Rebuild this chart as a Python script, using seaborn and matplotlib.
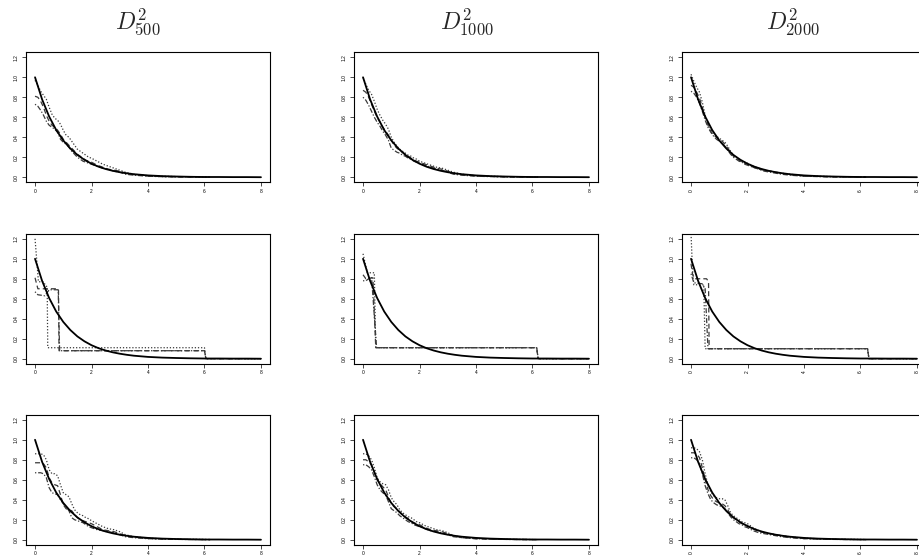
import matplotlib
matplotlib.use("Agg")
import matplotlib.pyplot as plt
import seaborn as sns

# true density curve
true_x = [0, 0.25, 0.5, 0.75, 1, 1.25, 1.5, 1.75, 2, 2.25, 2.5, 2.75, 3, 3.25, 3.5, 3.75, 4,
          4.5, 5, 5.5, 6, 6.5, 7, 7.5, 8]
true_y = [1.0, 0.779, 0.607, 0.472, 0.368, 0.287, 0.223, 0.174, 0.135, 0.105, 0.082, 0.064, 0.050,
          0.039, 0.030, 0.024, 0.018, 0.011, 0.007, 0.004, 0.002, 0.002, 0.001, 0.001, 0.0]

# grid of the smooth estimates (rows 1 and 3)
est_x = [0, 0.1, 0.2, 0.3, 0.4, 0.5, 0.6, 0.7, 0.8, 0.9, 1.0, 1.1, 1.2, 1.3, 1.4, 1.5, 1.6, 1.7,
         1.8, 1.9, 2.0, 2.2, 2.4, 2.6, 2.8, 3.0, 3.2, 3.5, 4.0, 4.5, 5.0, 6.2]

# row 1: D500, D1000, D2000
r1c1_a = [.97, .92, .86, .82, .78, .70, .63, .59, .57, .53, .47, .42, .40, .36, .32, .28, .26, .24, .22, .20, .19,
          .16, .13, .11, .09, .07, .05, .03, .015, .01, .006, .002]
r1c1_b = [.81, .80, .76, .70, .62, .56, .52, .50, .47, .43, .38, .35, .32, .29, .26, .23, .21, .19, .17, .16, .15,
          .12, .10, .08, .07, .06, .04, .025, .012, .006, .004, .001]
r1c1_c = [.73, .71, .67, .62, .56, .52, .50, .48, .45, .38, .35, .33, .30, .26, .23, .20, .18, .16, .15, .14, .13,
          .11, .09, .08, .06, .05, .03, .02, .01, .005, .003, .001]

r1c2_a = [1.0, .93, .87, .83, .76, .68, .62, .57, .53, .48, .40, .35, .31, .28, .26, .24, .22, .21, .19, .18, .16,
          .14, .12, .10, .09, .07, .05, .03, .015, .01, .006, .002]
r1c2_b = [.87, .85, .80, .73, .66, .60, .55, .50, .46, .42, .37, .32, .29, .27, .25, .23, .21, .19, .17, .16, .15,
          .13, .11, .09, .08, .06, .04, .025, .012, .008, .004, .001]
r1c2_c = [.80, .77, .72, .66, .60, .55, .51, .46, .42, .37, .29, .27, .25, .24, .22, .21, .19, .18, .16, .15, .14,
          .12, .10, .08, .07, .05, .03, .02, .01, .006, .003, .001]

r1c3_a = [1.03, .96, .90, .85, .75, .62, .54, .48, .44, .41, .39, .37, .35, .31, .26, .22, .20, .18, .16, .15, .14,
          .11, .09, .07, .06, .05, .04, .03, .015, .01, .006, .002]
r1c3_b = [.92, .90, .85, .79, .70, .60, .52, .46, .42, .40, .38, .36, .33, .29, .25, .21, .19, .17, .15, .14, .13,
          .10, .08, .07, .06, .05, .04, .025, .012, .008, .004, .001]
r1c3_c = [.86, .84, .80, .74, .66, .57, .50, .45, .41, .38, .36, .34, .31, .27, .23, .20, .18, .16, .15, .13, .12,
          .10, .08, .06, .05, .04, .03, .02, .01, .006, .003, .001]

# row 2: step estimates (x, y pairs)
r2c1_a_x = [0, 0.12, 0.3, 0.38, 0.43, 0.45, 6.0, 6.05, 8]
r2c1_a_y = [1.2, 0.77, 0.77, 0.73, 0.72, 0.11, 0.11, 0.0, 0.0]
r2c1_b_x = [0, 0.1, 0.78, 0.83, 0.85, 6.0, 6.05, 8]
r2c1_b_y = [0.81, 0.70, 0.70, 0.69, 0.08, 0.08, 0.0, 0.0]
r2c1_c_x = [0, 0.1, 0.35, 0.5, 0.82, 0.87, 6.0, 6.05, 8]
r2c1_c_y = [0.67, 0.64, 0.63, 0.69, 0.69, 0.08, 0.08, 0.0, 0.0]

r2c2_a_x = [0, 0.15, 0.4, 0.45, 6.15, 6.2, 8]
r2c2_a_y = [1.05, 0.86, 0.86, 0.11, 0.11, 0.0, 0.0]
r2c2_b_x = [0, 0.1, 0.35, 0.45, 6.15, 6.2, 8]
r2c2_b_y = [0.84, 0.80, 0.81, 0.11, 0.11, 0.0, 0.0]
r2c2_c_x = [0, 0.1, 0.3, 0.48, 6.15, 6.2, 8]
r2c2_c_y = [0.78, 0.78, 0.82, 0.11, 0.11, 0.0, 0.0]

r2c3_a_x = [0, 0.05, 0.1, 0.45, 0.5, 6.25, 6.3, 8]
r2c3_a_y = [1.25, 0.90, 0.74, 0.74, 0.10, 0.10, 0.0, 0.0]
r2c3_b_x = [0, 0.05, 0.12, 0.55, 0.62, 0.64, 6.25, 6.3, 8]
r2c3_b_y = [0.95, 0.85, 0.80, 0.80, 0.77, 0.10, 0.10, 0.0, 0.0]
r2c3_c_x = [0, 0.1, 0.4, 0.5, 0.6, 6.25, 6.3, 8]
r2c3_c_y = [0.85, 0.76, 0.75, 0.70, 0.10, 0.10, 0.0, 0.0]

# row 3
r3c1_a = [.86, .86, .86, .85, .80, .70, .66, .66, .64, .55, .47, .45, .43, .36, .30, .27, .25, .24, .22, .21, .19,
          .16, .13, .11, .10, .08, .05, .03, .015, .01, .006, .002]
r3c1_b = [.77, .77, .77, .76, .72, .62, .57, .55, .54, .45, .35, .31, .30, .29, .25, .22, .20, .19, .18, .17, .16,
          .13, .10, .09, .08, .06, .04, .025, .012, .008, .004, .001]
r3c1_c = [.67, .67, .67, .66, .62, .52, .47, .46, .45, .40, .36, .33, .29, .22, .20, .19, .18, .17, .15, .13, .12,
          .10, .09, .08, .07, .05, .03, .02, .01, .006, .003, .001]

r3c2_a = [.86, .86, .84, .80, .72, .62, .58, .56, .55, .50, .42, .38, .35, .30, .27, .25, .23, .22, .20, .18, .17,
          .14, .12, .10, .09, .07, .04, .025, .012, .008, .004, .001]
r3c2_b = [.80, .80, .78, .75, .68, .60, .56, .53, .50, .43, .36, .33, .31, .28, .25, .23, .21, .19, .17, .16, .15,
          .12, .10, .09, .08, .06, .04, .02, .01, .006, .003, .001]
r3c2_c = [.75, .75, .73, .70, .63, .55, .50, .47, .45, .38, .31, .29, .27, .24, .22, .20, .18, .17, .15, .14, .13,
          .11, .09, .08, .07, .05, .03, .02, .01, .006, .003, .001]

r3c3_a = [.92, .92, .91, .88, .80, .66, .55, .48, .44, .42, .41, .41, .40, .34, .27, .24, .22, .20, .18, .17, .16,
          .12, .09, .07, .06, .05, .04, .03, .015, .01, .006, .002]
r3c3_b = [.87, .87, .86, .82, .72, .60, .50, .44, .40, .38, .37, .36, .34, .30, .25, .22, .20, .18, .16, .15, .14,
          .11, .08, .07, .06, .05, .04, .025, .012, .008, .004, .001]
r3c3_c = [.82, .82, .80, .76, .66, .54, .46, .40, .37, .35, .34, .33, .31, .27, .23, .20, .18, .16, .15, .13, .12,
          .09, .07, .06, .05, .04, .03, .02, .01, .006, .003, .001]

titles = [r"$D^2_{500}$", r"$D^2_{1000}$", r"$D^2_{2000}$"]
x_ticks = [0, 2, 4, 6, 8]
y_ticks = [0.0, 0.2, 0.4, 0.6, 0.8, 1.0, 1.2]

sns.set_theme(style="ticks")
plt.rcParams["font.family"] = ["Liberation Sans", "DejaVu Sans"]
plt.rcParams["mathtext.fontset"] = "cm"

fig = plt.figure(figsize=(9.19, 5.55), dpi=100)
W, H = 919, 555

col_left = [26, 354, 682]
row_top = [52.5, 234, 415]
ax_w, ax_h = 244, 129.5

styles = [(0, (1, 1.5)), (0, (4, 2.5)), (0, (1, 1.5, 4, 1.5))]
est_color = "#3a3a3a"

rows = [
    [[(est_x, r1c1_a), (est_x, r1c1_b), (est_x, r1c1_c)],
     [(est_x, r1c2_a), (est_x, r1c2_b), (est_x, r1c2_c)],
     [(est_x, r1c3_a), (est_x, r1c3_b), (est_x, r1c3_c)]],
    [[(r2c1_a_x, r2c1_a_y), (r2c1_b_x, r2c1_b_y), (r2c1_c_x, r2c1_c_y)],
     [(r2c2_a_x, r2c2_a_y), (r2c2_b_x, r2c2_b_y), (r2c2_c_x, r2c2_c_y)],
     [(r2c3_a_x, r2c3_a_y), (r2c3_b_x, r2c3_b_y), (r2c3_c_x, r2c3_c_y)]],
    [[(est_x, r3c1_a), (est_x, r3c1_b), (est_x, r3c1_c)],
     [(est_x, r3c2_a), (est_x, r3c2_b), (est_x, r3c2_c)],
     [(est_x, r3c3_a), (est_x, r3c3_b), (est_x, r3c3_c)]],
]

for r in range(3):
    for c in range(3):
        left = col_left[c] / W
        bottom = 1 - (row_top[r] + ax_h) / H
        ax = fig.add_axes([left, bottom, ax_w / W, ax_h / H])

        for (xs, ys), ls in zip(rows[r][c], styles):
            sns.lineplot(x=xs, y=ys, ax=ax, color=est_color, lw=0.9, linestyle=ls,
                         estimator=None, sort=False, legend=False)
        sns.lineplot(x=true_x, y=true_y, ax=ax, color="black", lw=1.3,
                     estimator=None, sort=False, legend=False)

        ax.set_xlim(-0.32, 8.32)
        ax.set_ylim(-0.048, 1.248)
        ax.set_xticks(x_ticks)
        ax.set_yticks(y_ticks)
        ax.set_xticklabels([str(t) for t in x_ticks], fontsize=3.5,
                           rotation=90 if c == 2 else 0)
        ax.set_yticklabels([f"{t:.1f}" for t in y_ticks], fontsize=3.5,
                           rotation=90, va="center")
        ax.tick_params(length=3, width=0.5, pad=2, colors="black")
        for sp in ax.spines.values():
            sp.set_color("black")
            sp.set_linewidth(0.8)
        ax.set_xlabel("")
        ax.set_ylabel("")

title_x = [138, 467, 793]
for t, tx in zip(titles, title_x):
    fig.text(tx / W, 1 - 22 / H, t, ha="center", va="center", fontsize=17)

fig.savefig("out.png", dpi=100)
